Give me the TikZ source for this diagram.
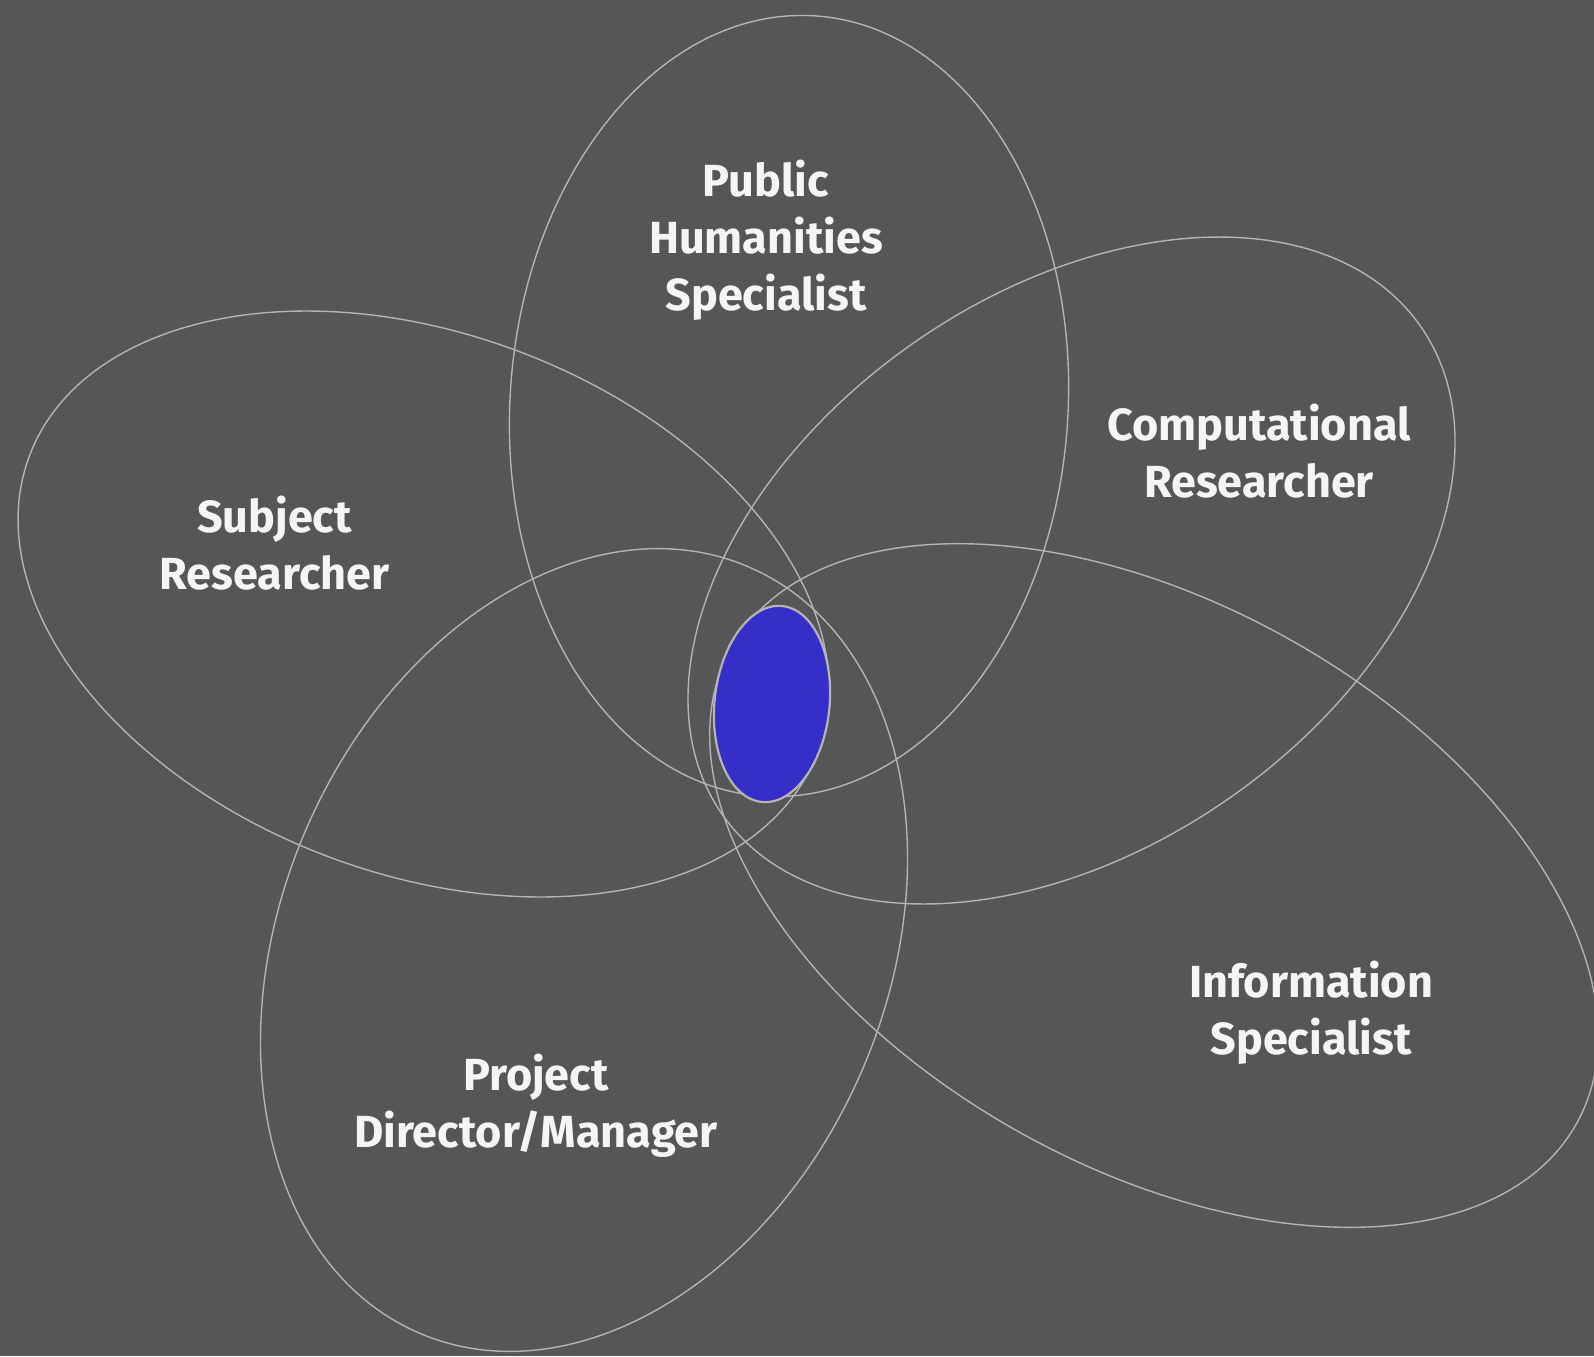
\documentclass[tikz,border=0pt]{standalone}
\usepackage{fontspec}
\setmainfont{Fira Sans}
\usepackage{xcolor}

\definecolor{bggray}{RGB}{86,86,86}
\definecolor{rimgray}{RGB}{180,180,180}
\definecolor{coreblue}{RGB}{54,46,200}
\definecolor{labelwhite}{RGB}{245,245,245}

\begin{document}
\begin{tikzpicture}[x=1pt, y=-1pt,
    petal/.style={draw=rimgray, line width=1.4pt},
    core/.style={fill=coreblue, draw=rimgray, line width=2.2pt},
    role/.style={text=labelwhite, align=center, inner sep=0pt,
      font={\fontsize{45}{57}\selectfont\bfseries}}]

      % background
      \fill[bggray] (0,0) rectangle (1594,1356);
      \useasboundingbox (0,0) rectangle (1594,1356);

      % five petals
      \draw[petal, rotate around={86.1:(789,406)}]    (789,406)    ellipse [x radius=391pt, y radius=279pt];
      \draw[petal, rotate around={35:(1071.5,570.5)}] (1071.5,570.5) ellipse [x radius=426pt, y radius=277pt];
      \draw[petal, rotate around={-29.5:(1154,885.5)}] (1154,885.5) ellipse [x radius=485pt, y radius=281pt];
      \draw[petal, rotate around={66.7:(584,950)}]    (584,950)    ellipse [x radius=417pt, y radius=303pt];
      \draw[petal, rotate around={-20.6:(423.5,604)}] (423.5,604)  ellipse [x radius=421pt, y radius=270pt];

      % overlap of all five
      \draw[core, rotate around={84:(772,704)}] (772,704) ellipse [x radius=98.5pt, y radius=57.5pt];

      % labels
      \node[role] (pub)  at (766,240)   {Public\\Humanities\\Specialist};
      \node[role] (comp) at (1259,451)  {Computational\\Researcher};
      \node[role] (subj) at (274.5,543) {Subject\\Researcher};
      \node[role] (proj) at (536,1106)  {Project\\Director/Manager};
      \node[role] (info) at (1311,1013) {Information\\Specialist};
    \end{tikzpicture}
\end{document}
